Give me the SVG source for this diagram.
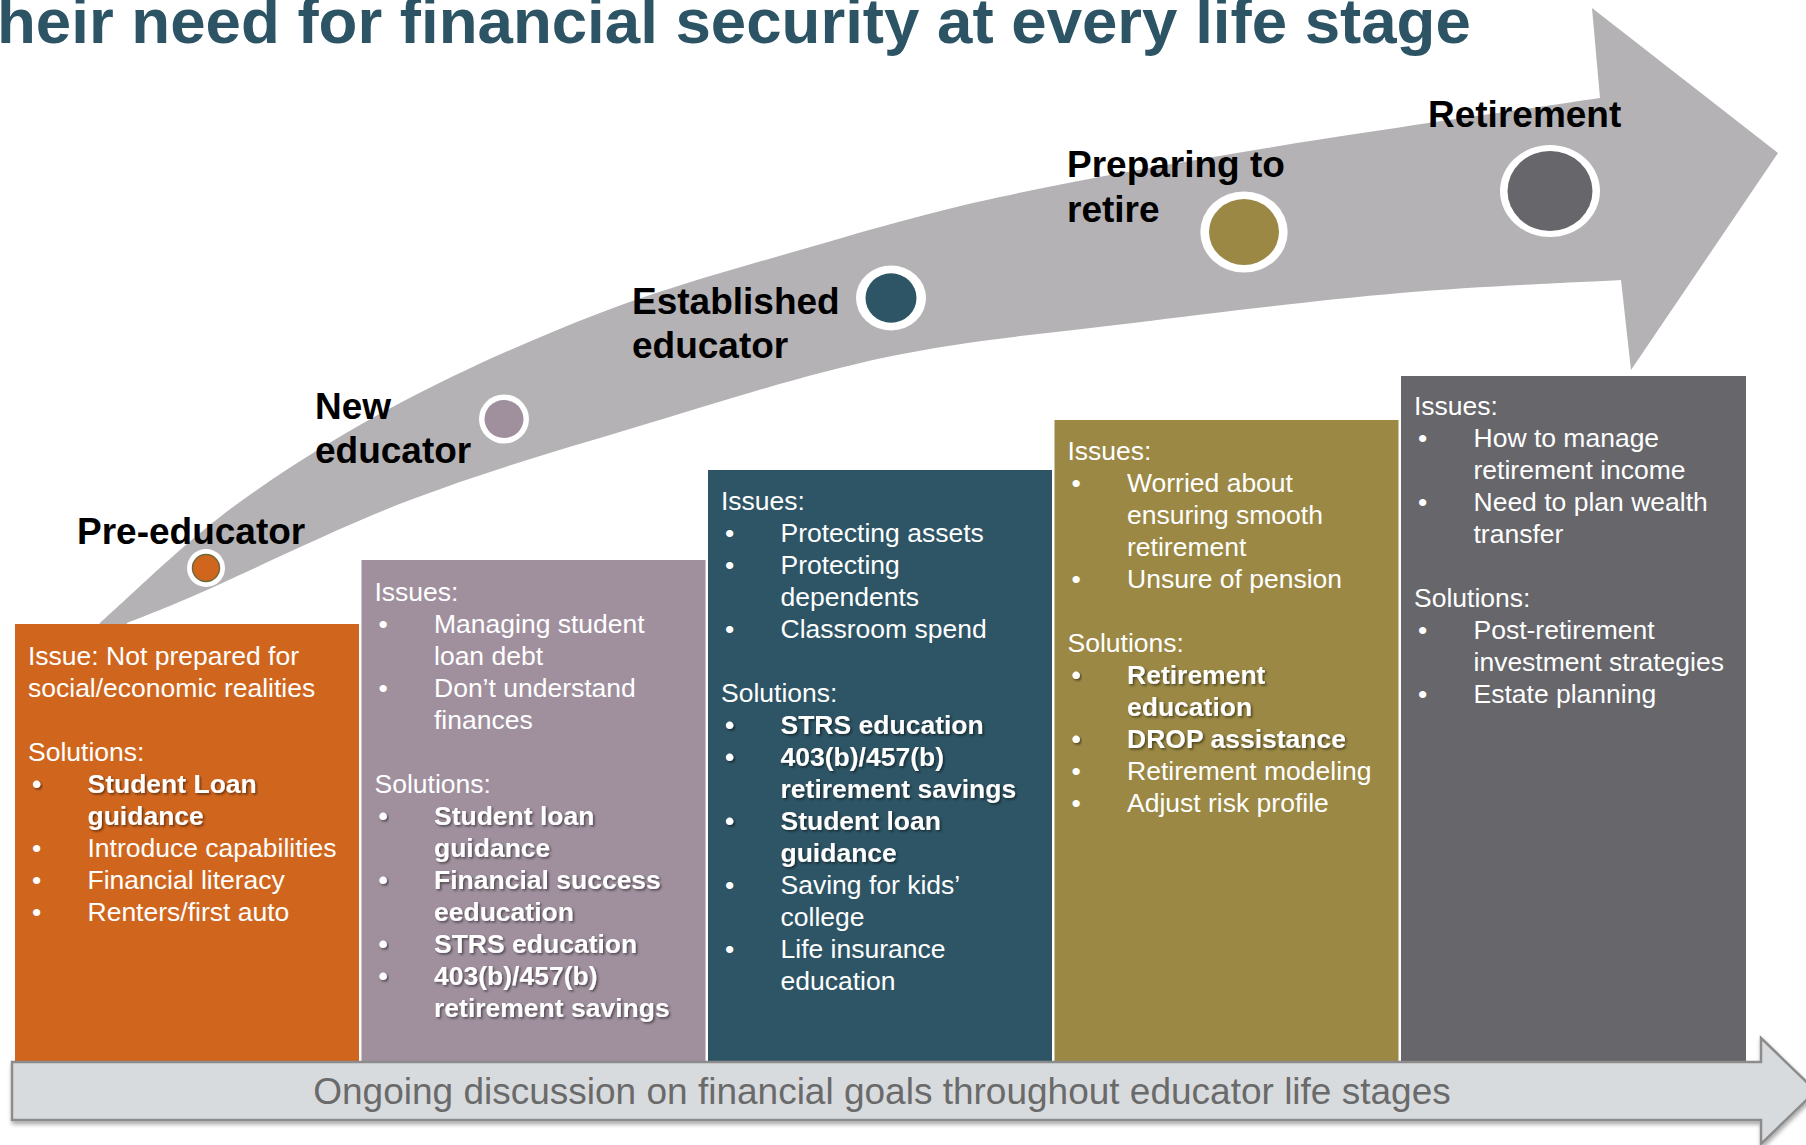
<svg xmlns="http://www.w3.org/2000/svg" width="1806" height="1145" viewBox="0 0 1806 1145">
  <defs>
    <!-- soft dark shadow behind emphasised (bold) items -->
    <filter id="textShadow" x="-5%" y="-30%" width="115%" height="170%">
      <feDropShadow dx="1.6" dy="1.6" stdDeviation="0.9" flood-color="#000000" flood-opacity="0.5"/>
    </filter>
    <!-- shadow under the bottom banner arrow -->
    <filter id="bannerShadow" x="-2%" y="-20%" width="104%" height="150%">
      <feDropShadow dx="1" dy="3" stdDeviation="2" flood-color="#000000" flood-opacity="0.35"/>
    </filter>
  </defs>
  <style>
    .title { font-family: "Liberation Sans", Arial, sans-serif; font-weight: bold; font-size: 63.6px; fill: #2D5465; }
    .stage { font-family: "Liberation Sans", Arial, sans-serif; font-weight: bold; font-size: 37px; fill: #000000; }
    .box text { font-family: "Liberation Sans", Arial, sans-serif; font-size: 26.5px; fill: #FFFFFF; }
    .box text.b { font-weight: bold; filter: url(#textShadow); }
    .ring { fill: #FFFFFF; }
    .band { fill: #B4B2B4; }
    .banner { fill: #D8DBDE; stroke: #8C8C8C; stroke-width: 2.5; filter: url(#bannerShadow); }
    .banner-text { font-family: "Liberation Sans", Arial, sans-serif; font-size: 37px; fill: #6A6A6A; }
  </style>

  <rect width="1806" height="1145" fill="#FFFFFF"/>

  <g id="title">
    <text class="title" x="-3" y="43">heir need for financial security at every life stage</text>
  </g>

  <!-- rising swoosh arrow that links the life stages -->
  <g id="connectors">
    <path class="band" d="M 100 623
      C 122.2 603.7, 183 543.7, 233 507
      C 283 470.3, 338.8 435.3, 400 403
      C 461.2 370.7, 533.3 338.5, 600 313
      C 666.7 287.5, 733.3 269.3, 800 250
      C 866.7 230.7, 922.2 214, 1000 197
      C 1077.8 180, 1167 164.5, 1267 148
      C 1367 131.5, 1544.5 106.3, 1600 98
      L 1592 8 L 1778 153 L 1631 370 L 1621 280
      C 1584.2 282.2, 1481.3 285.8, 1400 293
      C 1318.7 300.2, 1218.5 312.3, 1133 323
      C 1047.5 333.7, 970.3 339.5, 887 357
      C 803.7 374.5, 712.5 404.2, 633 428
      C 553.5 451.8, 482.2 472.5, 410 500
      C 337.8 527.5, 247.2 572.5, 200 593
      C 152.8 613.5, 139.2 618, 127 623
      L 126 630 L 96 630 Z"/>
  </g>

  <!-- Stage 1: Pre-educator -->
  <g id="pre-educator">
    <text class="stage" x="77" y="544">Pre-educator</text>
    <circle class="ring" cx="206" cy="568" r="19"/>
    <circle cx="206" cy="568" r="13.5" fill="#D0661E" stroke="#6E6A3C" stroke-width="1.5"/>
    <g class="box">
      <rect x="15" y="624" width="344" height="442" fill="#D0661E"/>
      <text x="28" y="665">Issue: Not prepared for</text>
      <text x="28" y="697">social/economic realities</text>
      <text x="28" y="761">Solutions:</text>
      <text class="b" x="32" y="793">•</text>
      <text class="b" x="87.5" y="793">Student Loan</text>
      <text class="b" x="87.5" y="825">guidance</text>
      <text x="32" y="857">•</text>
      <text x="87.5" y="857">Introduce capabilities</text>
      <text x="32" y="889">•</text>
      <text x="87.5" y="889">Financial literacy</text>
      <text x="32" y="921">•</text>
      <text x="87.5" y="921">Renters/first auto</text>
    </g>
  </g>

  <!-- Stage 2: New educator -->
  <g id="new-educator">
    <text class="stage" x="315" y="419">New</text>
    <text class="stage" x="315" y="463">educator</text>
    <ellipse class="ring" cx="504" cy="419" rx="25" ry="24.5"/>
    <ellipse cx="504" cy="419" rx="19.5" ry="19" fill="#A0909E"/>
    <g class="box">
      <rect x="361.5" y="560" width="344" height="506" fill="#A0909E"/>
      <text x="374.5" y="601">Issues:</text>
      <text x="378.5" y="633">•</text>
      <text x="434" y="633">Managing student</text>
      <text x="434" y="665">loan debt</text>
      <text x="378.5" y="697">•</text>
      <text x="434" y="697">Don’t understand</text>
      <text x="434" y="729">finances</text>
      <text x="374.5" y="793">Solutions:</text>
      <text class="b" x="378.5" y="825">•</text>
      <text class="b" x="434" y="825">Student loan</text>
      <text class="b" x="434" y="857">guidance</text>
      <text class="b" x="378.5" y="889">•</text>
      <text class="b" x="434" y="889">Financial success</text>
      <text class="b" x="434" y="921">eeducation</text>
      <text class="b" x="378.5" y="953">•</text>
      <text class="b" x="434" y="953">STRS education</text>
      <text class="b" x="378.5" y="985">•</text>
      <text class="b" x="434" y="985">403(b)/457(b)</text>
      <text class="b" x="434" y="1017">retirement savings</text>
    </g>
  </g>

  <!-- Stage 3: Established educator -->
  <g id="established-educator">
    <text class="stage" x="632" y="314">Established</text>
    <text class="stage" x="632" y="358">educator</text>
    <ellipse class="ring" cx="891" cy="298" rx="35" ry="32.5"/>
    <ellipse cx="891" cy="298" rx="25.5" ry="24.7" fill="#2E5565"/>
    <g class="box">
      <rect x="708" y="470" width="344" height="596" fill="#2E5565"/>
      <text x="721" y="510">Issues:</text>
      <text x="725" y="542">•</text>
      <text x="780.5" y="542">Protecting assets</text>
      <text x="725" y="574">•</text>
      <text x="780.5" y="574">Protecting</text>
      <text x="780.5" y="606">dependents</text>
      <text x="725" y="638">•</text>
      <text x="780.5" y="638">Classroom spend</text>
      <text x="721" y="702">Solutions:</text>
      <text class="b" x="725" y="734">•</text>
      <text class="b" x="780.5" y="734">STRS education</text>
      <text class="b" x="725" y="766">•</text>
      <text class="b" x="780.5" y="766">403(b)/457(b)</text>
      <text class="b" x="780.5" y="798">retirement savings</text>
      <text class="b" x="725" y="830">•</text>
      <text class="b" x="780.5" y="830">Student loan</text>
      <text class="b" x="780.5" y="862">guidance</text>
      <text x="725" y="894">•</text>
      <text x="780.5" y="894">Saving for kids’</text>
      <text x="780.5" y="926">college</text>
      <text x="725" y="958">•</text>
      <text x="780.5" y="958">Life insurance</text>
      <text x="780.5" y="990">education</text>
    </g>
  </g>

  <!-- Stage 4: Preparing to retire -->
  <g id="preparing-to-retire">
    <text class="stage" x="1067" y="177">Preparing to</text>
    <text class="stage" x="1067" y="222">retire</text>
    <ellipse class="ring" cx="1244" cy="232" rx="43.7" ry="40.5"/>
    <ellipse cx="1244" cy="232" rx="35" ry="33" fill="#9A8844"/>
    <g class="box">
      <rect x="1054.5" y="420" width="344" height="646" fill="#9A8844"/>
      <text x="1067.5" y="460">Issues:</text>
      <text x="1071.5" y="492">•</text>
      <text x="1127" y="492">Worried about</text>
      <text x="1127" y="524">ensuring smooth</text>
      <text x="1127" y="556">retirement</text>
      <text x="1071.5" y="588">•</text>
      <text x="1127" y="588">Unsure of pension</text>
      <text x="1067.5" y="652">Solutions:</text>
      <text class="b" x="1071.5" y="684">•</text>
      <text class="b" x="1127" y="684">Retirement</text>
      <text class="b" x="1127" y="716">education</text>
      <text class="b" x="1071.5" y="748">•</text>
      <text class="b" x="1127" y="748">DROP assistance</text>
      <text x="1071.5" y="780">•</text>
      <text x="1127" y="780">Retirement modeling</text>
      <text x="1071.5" y="812">•</text>
      <text x="1127" y="812">Adjust risk profile</text>
    </g>
  </g>

  <!-- Stage 5: Retirement -->
  <g id="retirement">
    <text class="stage" x="1428" y="127">Retirement</text>
    <ellipse class="ring" cx="1550" cy="191" rx="50" ry="46"/>
    <ellipse cx="1550" cy="191" rx="42.5" ry="40" fill="#66666B"/>
    <g class="box">
      <rect x="1401" y="376" width="345" height="690" fill="#66666B"/>
      <text x="1414" y="415">Issues:</text>
      <text x="1418" y="447">•</text>
      <text x="1473.5" y="447">How to manage</text>
      <text x="1473.5" y="479">retirement income</text>
      <text x="1418" y="511">•</text>
      <text x="1473.5" y="511">Need to plan wealth</text>
      <text x="1473.5" y="543">transfer</text>
      <text x="1414" y="607">Solutions:</text>
      <text x="1418" y="639">•</text>
      <text x="1473.5" y="639">Post-retirement</text>
      <text x="1473.5" y="671">investment strategies</text>
      <text x="1418" y="703">•</text>
      <text x="1473.5" y="703">Estate planning</text>
    </g>
  </g>

  <!-- Banner arrow along the bottom -->
  <g id="ongoing-discussion">
    <path class="banner" d="M 12 1062 L 1761 1062 L 1761 1038 L 1816 1091 L 1761 1144 L 1761 1120 L 12 1120 Z"/>
    <text class="banner-text" x="882" y="1104" text-anchor="middle">Ongoing discussion on financial goals throughout educator life stages</text>
  </g>
</svg>
